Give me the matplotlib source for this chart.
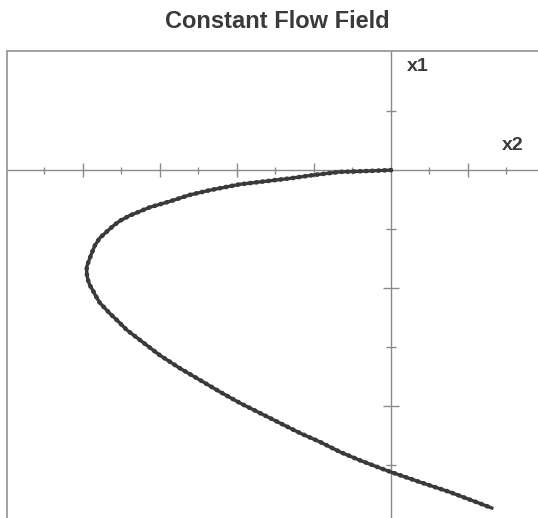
import numpy as np
from matplotlib import pyplot as plt

# trajectory (x2 horizontal, x1 vertical)
x2_vals = [0.0, -0.81, -1.32, -1.97, -2.62, -3.27, -3.92, -4.70, -5.22, -5.74,
           -6.26, -6.78, -7.04, -7.22, -7.56, -7.69, -7.77, -7.84, -7.90, -7.90,
           -7.87, -7.82, -7.74, -7.66, -7.56, -7.30, -7.09, -6.86, -6.52, -6.00,
           -5.48, -4.96, -4.44, -3.92, -3.40, -2.88, -2.36, -1.84, -1.32, -0.81,
           -0.29, 0.0, 0.75, 1.53, 2.62]
x1_vals = [0.0, -0.02, -0.03, -0.08, -0.14, -0.19, -0.24, -0.34, -0.42, -0.53,
           -0.63, -0.77, -0.86, -0.95, -1.15, -1.28, -1.41, -1.53, -1.64, -1.75,
           -1.86, -1.95, -2.04, -2.14, -2.25, -2.43, -2.56, -2.71, -2.88, -3.14,
           -3.36, -3.56, -3.76, -3.95, -4.12, -4.29, -4.46, -4.61, -4.78, -4.92,
           -5.05, -5.12, -5.29, -5.46, -5.73]

x2_ticks = [-9, -8, -7, -6, -5, -4, -3, -2, -1, 1, 2, 3]
x1_ticks = [1, -1, -2, -3, -4, -5]

title = "Constant Flow Field"
font = ['Liberation Sans', 'DejaVu Sans']
axis_col = '#8a8a8a'
curve_col = '#3a3a3a'

fig = plt.figure(figsize=(5.38, 5.18), dpi=100)
ax = fig.add_axes([0.013, 0.0, 0.987, 0.9015])
ax.set_xlim(-9.97, 3.82)
ax.set_ylim(-5.9, 2.02)
for s in ['right', 'bottom']:
    ax.spines[s].set_visible(False)
for s in ['left', 'top']:
    ax.spines[s].set_color('#9a9a9a')
    ax.spines[s].set_linewidth(1.3)
ax.set_xticks([])
ax.set_yticks([])

# axes through the origin
ax.axhline(0, color=axis_col, lw=1.0, zorder=1)
ax.axvline(0, color=axis_col, lw=1.0, zorder=1)

# tick marks: long at even values, short at odd ones
for t in x2_ticks:
    h = 0.12 if t % 2 == 0 else 0.06
    ax.vlines(t, -h, h, color=axis_col, lw=1.0, zorder=1)
for t in x1_ticks:
    w = 0.21 if t % 2 == 0 else 0.12
    ax.hlines(t, -w, w, color=axis_col, lw=1.0, zorder=1)

# the trajectory: a solid core with beads on top
ax.plot(x2_vals, x1_vals, color=curve_col, lw=2.4, zorder=3,
        solid_joinstyle='round')
ax.plot(x2_vals, x1_vals, color=curve_col, lw=3.4, ls=(0, (0.05, 1.25)),
        dash_capstyle='round', zorder=4)

ax.text(0.42, 1.75, "x1", family=font, fontsize=14, fontweight='bold',
        color='#3a3a3a', ha='left', va='center')
ax.text(2.88, 0.42, "x2", family=font, fontsize=14, fontweight='bold',
        color='#3a3a3a', ha='left', va='center')

fig.text(0.515, 0.958, title, family=font, fontsize=17, fontweight='bold',
         color='#3a3a3a', ha='center', va='center')

fig.savefig('out.png', dpi=100)
